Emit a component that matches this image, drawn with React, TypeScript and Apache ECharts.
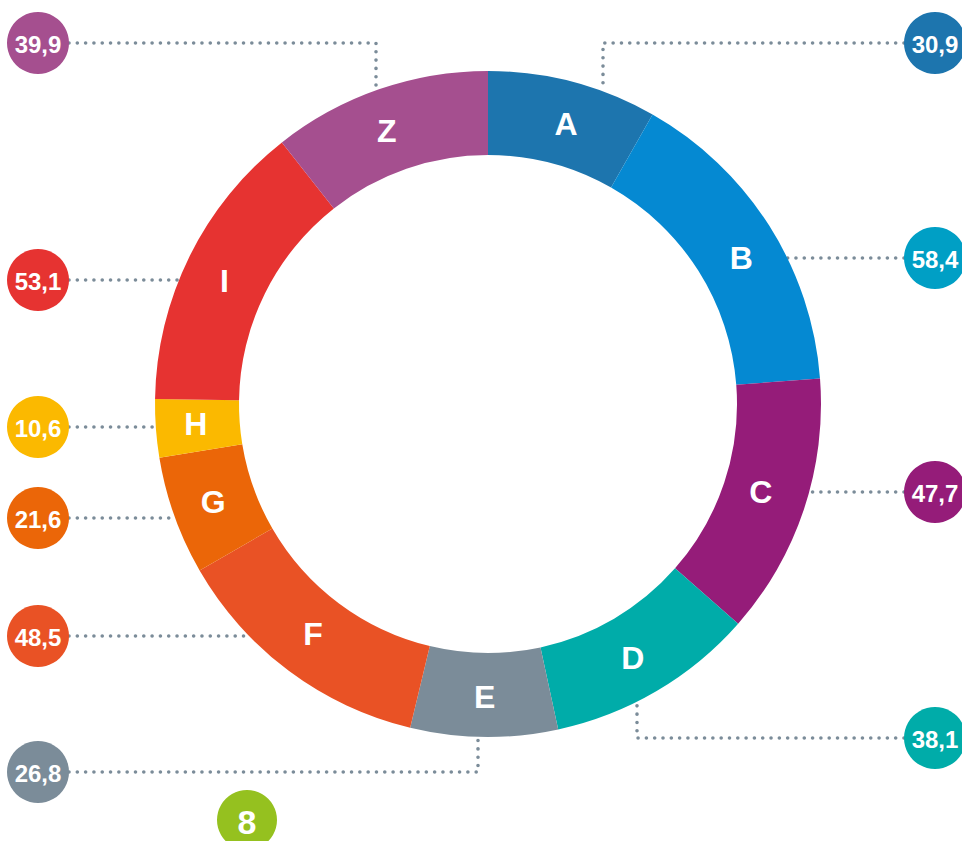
import React, { useEffect, useRef } from "react";
import * as echarts from "echarts";

const categories = ["A", "B", "C", "D", "E", "F", "G", "H", "I", "Z"];
const values = [30.9, 58.4, 47.7, 38.1, 26.8, 48.5, 21.6, 10.6, 53.1, 39.9];
const segmentColors = [
  "#1d75ae", "#0589d2", "#951c79", "#00aca9", "#7b8c99",
  "#e95225", "#eb6608", "#fbb900", "#e63331", "#a54f8f",
];
const bubbleColors = [
  "#1d75ae", "#009fc5", "#951c79", "#00aca9", "#7b8c99",
  "#e95225", "#eb6608", "#fbb900", "#e63331", "#a54f8f",
];
const extraBadge = "8";

// layout of callouts (positions only, not data)
const bubblePos: [number, number][] = [
  [935, 43], [935, 258], [935, 492], [935, 738], [38, 772],
  [38, 636], [38, 518], [38, 427], [38, 280], [38, 43],
];
const leaderPaths: [number, number][][] = [
  [[904, 43], [603, 43], [603, 87]],
  [[904, 258], [768, 258]],
  [[904, 492], [810, 492]],
  [[904, 738], [637, 738], [637, 697]],
  [[69, 772], [478, 772], [478, 737]],
  [[69, 636], [250, 636]],
  [[69, 518], [172, 518]],
  [[69, 427], [155, 427]],
  [[69, 280], [178, 280]],
  [[69, 43], [376, 43], [376, 88]],
];
// small nudges of the segment letters relative to mid-angle placement
const labelNudge: [number, number][] = [
  [3, 4], [5, 12], [-6, -5], [-4, 1], [0, -1],
  [1, -6], [2, -1], [1, -2], [0, 7], [-5, 5],
];

const FONT = "'Liberation Sans', Arial, Helvetica, sans-serif";

export default function App() {
  const ref = useRef<HTMLDivElement>(null);
  useEffect(() => {
    if (!ref.current) return;
    const chart = echarts.init(ref.current, undefined, { renderer: "svg" });
    const fmt = (v: number) => v.toFixed(1).replace(".", ",");
    const graphics: any[] = [];
    leaderPaths.forEach((pts) => {
      graphics.push({
        type: "polyline",
        silent: true,
        shape: { points: pts },
        style: {
          stroke: "#7b8c99",
          fill: null,
          lineWidth: 3.6,
          lineDash: [0.01, 8.3],
          lineCap: "round",
        },
        z: 1,
      });
    });
    values.forEach((v, i) => {
      const [x, y] = bubblePos[i];
      graphics.push({
        type: "circle",
        silent: true,
        shape: { cx: x, cy: y, r: 31 },
        style: { fill: bubbleColors[i] },
        z: 2,
      });
      graphics.push({
        type: "text",
        silent: true,
        x,
        y: y + 1,
        style: {
          text: fmt(v),
          fill: "#ffffff",
          font: `bold 24px ${FONT}`,
          align: "center",
          verticalAlign: "middle",
        },
        z: 3,
      });
    });
    graphics.push({
      type: "circle",
      silent: true,
      shape: { cx: 247, cy: 820, r: 30 },
      style: { fill: "#95c11f" },
      z: 2,
    });
    graphics.push({
      type: "text",
      silent: true,
      x: 247,
      y: 822,
      style: {
        text: extraBadge,
        fill: "#ffffff",
        font: `bold 34px ${FONT}`,
        align: "center",
        verticalAlign: "middle",
      },
      z: 3,
    });

    chart.setOption({
      animation: false,
      backgroundColor: "#ffffff",
      series: [
        {
          type: "pie",
          center: [488, 404],
          radius: [249, 333],
          startAngle: 90,
          clockwise: true,
          silent: true,
          avoidLabelOverlap: false,
          emphasis: { disabled: true },
          itemStyle: { borderWidth: 0 },
          label: {
            show: true,
            position: "inside",
            formatter: "{b}",
            color: "#ffffff",
            fontFamily: FONT,
            fontWeight: "bold",
            fontSize: 32,
          },
          labelLayout: (params: any) => {
            const n = labelNudge[params.dataIndex] || [0, 0];
            return { dx: n[0], dy: n[1] };
          },
          labelLine: { show: false },
          data: categories.map((c, i) => ({
            name: c,
            value: values[i],
            itemStyle: { color: segmentColors[i] },
          })),
        },
      ],
      graphic: graphics,
    });
    return () => chart.dispose();
  }, []);
  return (
    <div
      ref={ref}
      style={{ position: "fixed", left: 0, top: 0, width: 962, height: 841 }}
    />
  );
}
